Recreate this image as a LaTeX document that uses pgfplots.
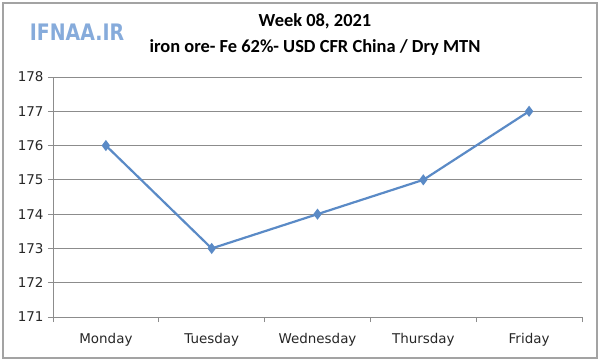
\documentclass[border=0pt]{standalone}
\usepackage{pgfplots}
\pgfplotsset{compat=1.18}
\usepackage{fontspec}
\setmainfont{DejaVu Sans}
\newfontfamily\titlefont{Carlito}
\newfontfamily\logofont{DejaVu Sans}
\definecolor{linecol}{HTML}{5A8AC6}
\definecolor{gridcol}{HTML}{8C8C8C}
\definecolor{logocol}{HTML}{86ABDB}
\begin{document}
\begin{tikzpicture}[x=1bp,y=1bp]
\path[use as bounding box] (0,0) rectangle (600,362);
\draw[gridcol!80, line width=1.2bp] (3,4) rectangle (597,359);
\node[font=\titlefont\bfseries\fontsize{18.5}{20}\selectfont] at (315,341) {Week 08, 2021};
\node[font=\titlefont\bfseries\fontsize{18.5}{20}\selectfont] at (315,315) {iron ore- Fe 62\%- USD CFR China / Dry MTN};
\node[font=\logofont\bfseries\fontsize{19}{22}\selectfont, text=logocol, yscale=1.2] at (77,330) {IFNAA.IR};
\begin{axis}[
  at={(53bp,45bp)}, anchor=south west,
  scale only axis, width=529bp, height=240bp,
  xmin=-0.5, xmax=4.5, ymin=171, ymax=178,
  ytick={171,...,178},
  xtick={0,1,2,3,4},
  xticklabels={Monday,Tuesday,Wednesday,Thursday,Friday},
  minor xtick={-0.5,0.5,1.5,2.5,3.5,4.5},
  major x tick style={draw=none},
  minor x tick style={gridcol, line width=0.8bp},
  xtick align=outside, ytick align=outside,
  tick pos=left,
  minor tick length=5bp, major tick length=5bp,
  ymajorgrids, grid style={gridcol, line width=0.8bp},
  y tick style={gridcol, line width=0.8bp},
  axis x line*=bottom, axis y line*=left,
  axis line style={gridcol, line width=0.8bp, -},
  tick label style={font=\fontsize{13.5}{15}\selectfont, text=black!85},
  yticklabel style={xshift=-1bp},
  xticklabel style={yshift=-8bp},
  /pgf/number format/assume math mode=true,
]
\addplot[linecol, line width=2.2bp, mark=diamond*, mark size=3.8bp, mark options={fill=linecol}]
  coordinates {(0,176) (1,173) (2,174) (3,175) (4,177)};
\end{axis}
\end{tikzpicture}
\end{document}
